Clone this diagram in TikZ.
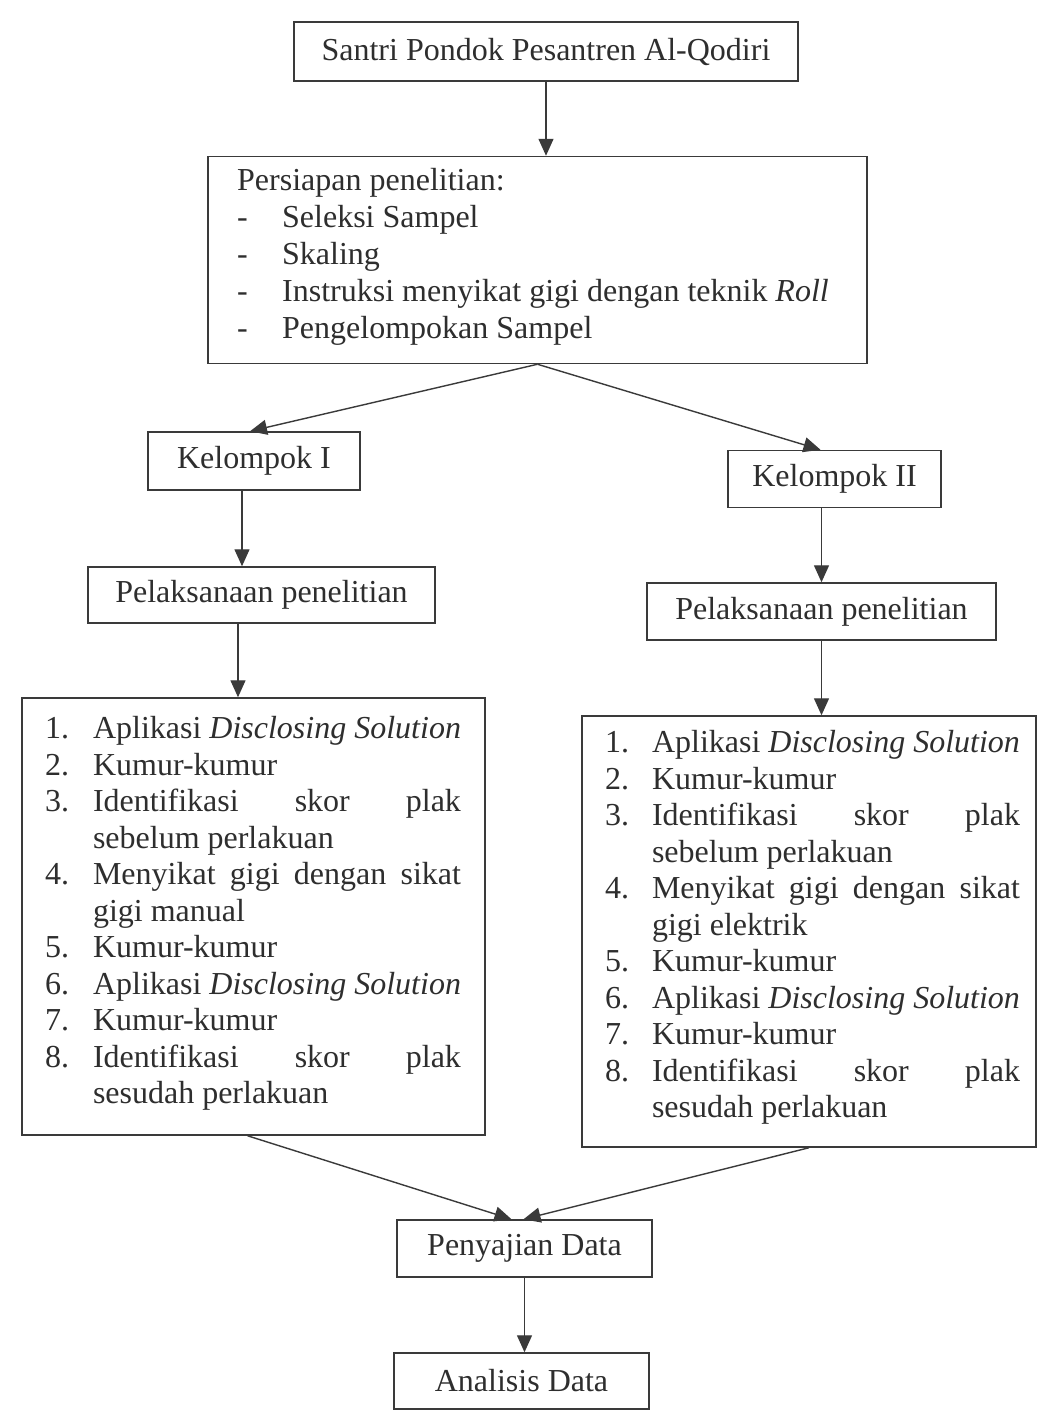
\documentclass[tikz,border=0pt]{standalone}
\usepackage{fontspec}
\setmainfont{Liberation Serif}
\usepackage{enumitem}
\usetikzlibrary{arrows.meta,calc}
\definecolor{ink}{HTML}{2E2E2E}
\definecolor{lineink}{HTML}{3A3A3A}
\newcommand{\bodyfont}{\fontsize{32}{36.5}\selectfont}
\newcommand{\dashitem}{\makebox[45pt][l]{-}}
\begin{document}
\begin{tikzpicture}[x=1pt,y=-1pt,
  every node/.style={font=\bodyfont,text=ink},
  box/.style={draw=lineink,line width=1.5pt,rectangle,inner sep=0pt},
  conn/.style={draw=lineink,line width=1.4pt,-{Triangle[length=17pt,width=15pt]}},
  txt/.style={inner sep=0pt}]
\useasboundingbox (0,0) rectangle (1039,1411);
\fill[white] (0,0) rectangle (1039,1411);

% boxes
\node[box,minimum width=504pt,minimum height=59pt] (santri) at (546,51.5) {Santri Pondok Pesantren Al-Qodiri};
\node[box,minimum width=659pt,minimum height=207pt] (prep) at (537.5,260) {};
\node[txt,anchor=west,align=left,font=\fontsize{32}{37}\selectfont] (prept) at (237,257)
  {Persiapan penelitian:\\
   \dashitem Seleksi Sampel\\
   \dashitem Skaling\\
   \dashitem Instruksi menyikat gigi dengan teknik \textit{Roll}\\
   \dashitem Pengelompokan Sampel};

\node[box,minimum width=212pt,minimum height=58pt] (k1) at (254,461) {Kelompok I};
\node[box,minimum width=213pt,minimum height=57pt] (k2) at (834.5,479) {Kelompok II};

\node[box,minimum width=347pt,minimum height=56pt] (p1) at (261.5,595) {Pelaksanaan penelitian};
\node[box,minimum width=349pt,minimum height=57pt] (p2) at (821.5,611.5) {Pelaksanaan penelitian};

\node[box,minimum width=463pt,minimum height=437pt] (l1) at (253.5,916.5) {};
\node[txt] (l1t) at (253,913.5) {\begin{minipage}{416pt}\bodyfont\hyphenpenalty=10000\exhyphenpenalty=10000
\begin{enumerate}[label=\arabic*.,leftmargin=48pt,labelindent=0pt,labelwidth=36pt,labelsep=12pt,align=left,nosep]
\item Aplikasi \textit{Disclosing Solution}
\item Kumur-kumur
\item Identifikasi skor plak\linebreak sebelum perlakuan
\item Menyikat gigi dengan sikat\linebreak gigi manual
\item Kumur-kumur
\item Aplikasi \textit{Disclosing Solution}
\item Kumur-kumur
\item Identifikasi skor plak\linebreak sesudah perlakuan
\end{enumerate}\end{minipage}};

\node[box,minimum width=454pt,minimum height=431pt] (l2) at (809,931.5) {};
\node[txt] (l2t) at (812.5,927.5) {\begin{minipage}{415pt}\bodyfont\hyphenpenalty=10000\exhyphenpenalty=10000
\begin{enumerate}[label=\arabic*.,leftmargin=47pt,labelindent=0pt,labelwidth=35pt,labelsep=12pt,align=left,nosep]
\item Aplikasi \textit{Disclosing Solution}
\item Kumur-kumur
\item Identifikasi skor plak\linebreak sebelum perlakuan
\item Menyikat gigi dengan sikat\linebreak gigi elektrik
\item Kumur-kumur
\item Aplikasi \textit{Disclosing Solution}
\item Kumur-kumur
\item Identifikasi skor plak\linebreak sesudah perlakuan
\end{enumerate}\end{minipage}};

\node[box,minimum width=255pt,minimum height=57pt] (pen) at (524.5,1248.5) {Penyajian Data};
\node[box,minimum width=255pt,minimum height=56pt] (ana) at (521.5,1381) {Analisis Data};

% connectors
\coordinate (k1o) at ($(k1.south)+(-12,0)$);
\coordinate (p1o) at ($(p1.south)+(-23.5,0)$);
\coordinate (k2in) at ($(k2.north)+(-14,0)$);
\coordinate (k1in) at ($(k1.north)+(-4,0)$);
\coordinate (penL) at ($(pen.north)+(-13,0)$);
\coordinate (penR) at ($(pen.north)+(-1,0)$);
\coordinate (l1o) at ($(l1.south)+(-6,0)$);

\draw[conn] (santri.south) -- (santri.south |- prep.north);
\draw[conn] (prep.south) -- (k1in);
\draw[conn] (prep.south) -- (k2in);
\draw[conn] (k1o) -- (k1o |- p1.north);
\draw[conn] (p1o) -- (p1o |- l1.north);
\draw[conn] (p2.north |- k2.south) -- (p2.north);
\draw[conn] (p2.south) -- (p2.south |- l2.north);
\draw[conn] (l1o) -- (penL);
\draw[conn] (l2.south) -- (penR);
\draw[conn] (pen.south) -- (pen.south |- ana.north);
\end{tikzpicture}
\end{document}
